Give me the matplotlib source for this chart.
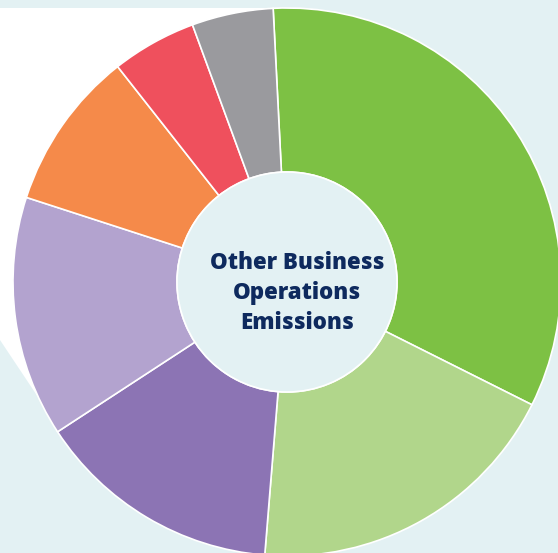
import matplotlib
matplotlib.use("Agg")
import matplotlib.pyplot as plt
from matplotlib.patches import Polygon, Circle

# Data (shares, clockwise from top)
segments = ["S1", "S2", "S3", "S4", "S5", "S6", "S7"]
values = [33.2, 18.9, 14.5, 14.2, 9.4, 5.0, 4.8]
colors = ["#7dc144", "#b1d68b", "#8c74b4", "#b3a3cf", "#f58a4a", "#ef505d", "#9a9a9e"]
center_label = "Other Business\nOperations\nEmissions"

W, H = 558, 553
fig = plt.figure(figsize=(W / 100, H / 100), dpi=100)
fig.patch.set_facecolor("#e3f1f3")
ax = fig.add_axes([0, 0, 1, 1])
ax.set_xlim(0, W)
ax.set_ylim(0, H)
ax.set_aspect("equal")
ax.axis("off")

cx, cy = 287, H - 282
R_out, R_in = 274, 110

# white backdrop shape at upper left
white = Polygon([(0, H - 8), (273, H - 8), (cx, cy), (60, H - 430), (0, H - 340)],
                closed=True, facecolor="white", edgecolor="none", zorder=0)
ax.add_patch(white)

ax.pie(values, colors=colors, startangle=92.9, counterclock=False,
       center=(cx, cy), radius=R_out,
       wedgeprops=dict(width=R_out - R_in, edgecolor="white", linewidth=1.2))
ax.set_xlim(0, W)
ax.set_ylim(0, H)

ax.add_patch(Circle((cx, cy), R_in, facecolor="#e3f1f3", edgecolor="white",
                    linewidth=1.2, zorder=5))

ax.text(cx + 10, cy - 11, center_label, ha="center", va="center", fontsize=16,
        fontweight="heavy", family=["Open Sans", "DejaVu Sans"], color="#0e2a5e",
        linespacing=1.32, zorder=6)

fig.savefig("out.png", dpi=100, facecolor=fig.get_facecolor())
